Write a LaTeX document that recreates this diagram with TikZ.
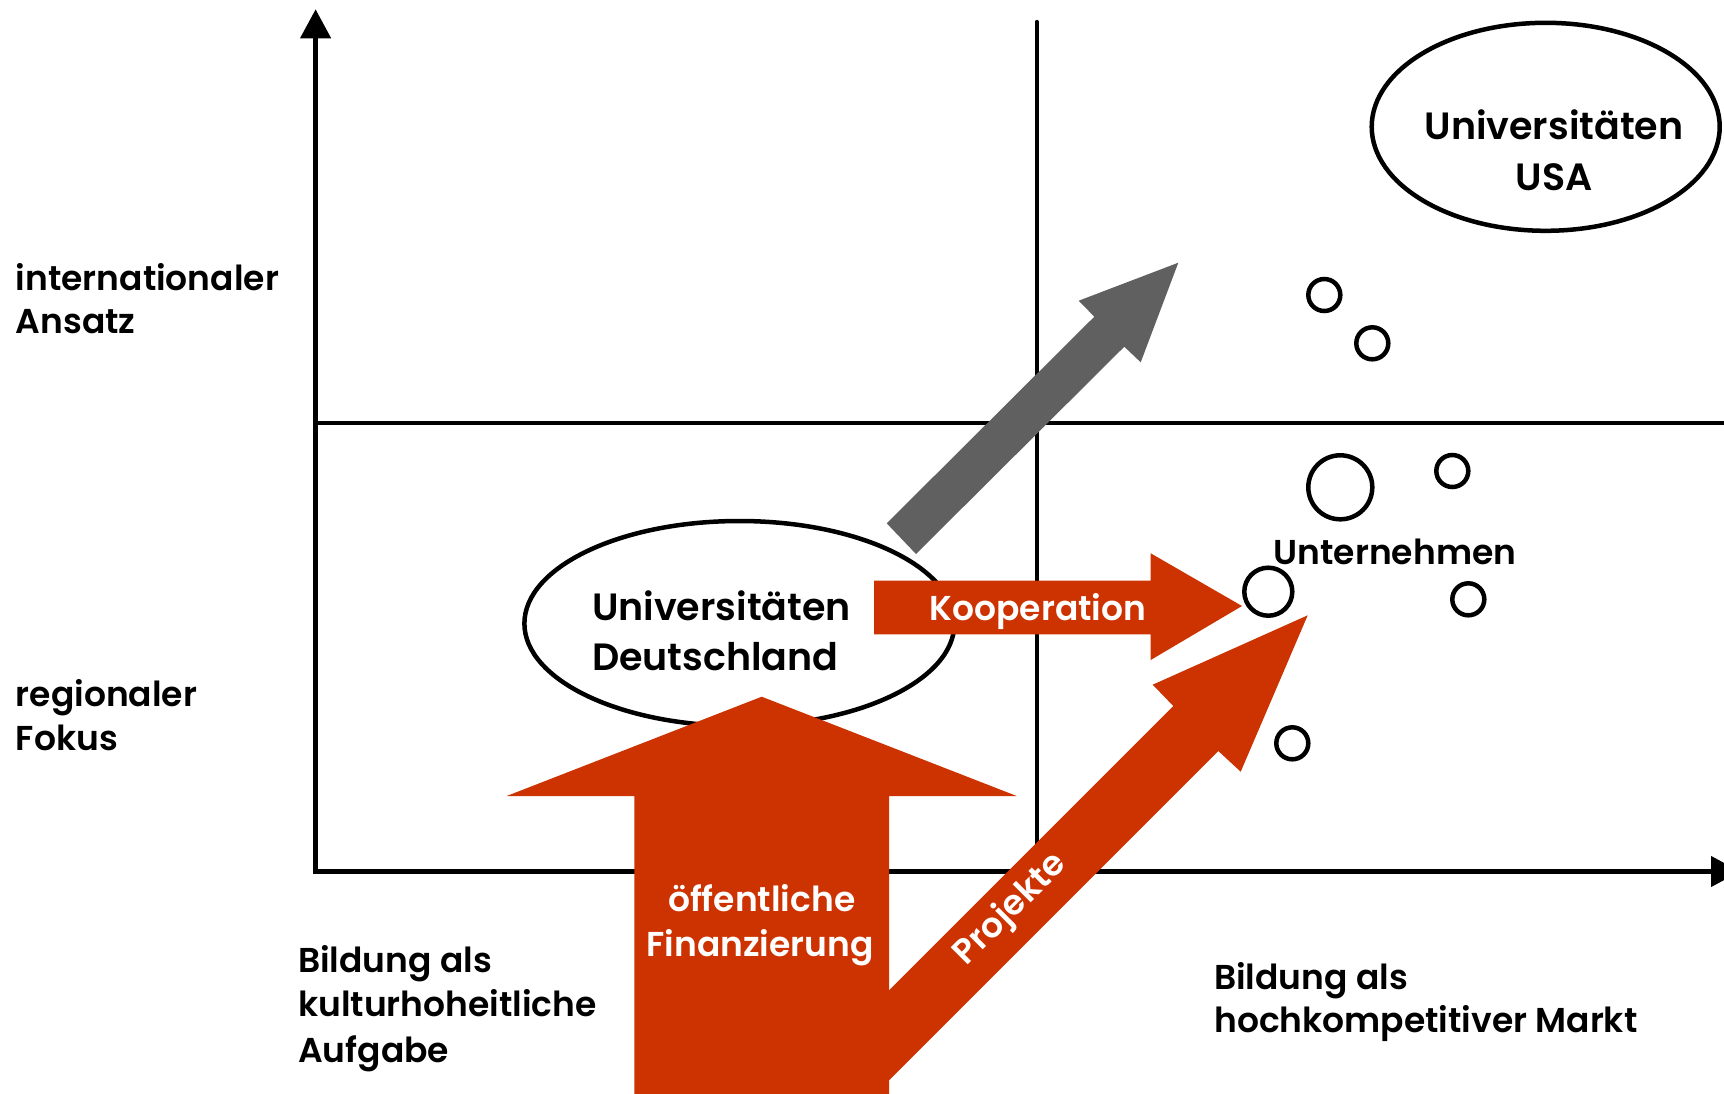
\documentclass[tikz,border=0pt]{standalone}
\usepackage{fontspec}
\setmainfont{Poppins SemiBold}
\usetikzlibrary{arrows.meta,shapes.geometric}
\definecolor{rust}{HTML}{CC3300}
\definecolor{slate}{HTML}{606060}
\begin{document}
\begin{tikzpicture}[x=1pt,y=-1pt,
  axis/.style={line width=4.5pt},
  gridline/.style={line width=4.3pt},
  dot/.style={draw, circle, line width=4.5pt, inner sep=0pt, minimum size=#1},
  oval/.style={draw, ellipse, line width=4.5pt, inner sep=0pt},
  lbl/.style={font=\fontsize{34.5}{40}\selectfont, anchor=base west, inner sep=0pt},
  ttl/.style={font=\fontsize{38}{44}\selectfont, anchor=base, inner sep=0pt},
  wlbl/.style={font=\fontsize{34.5}{40}\selectfont, anchor=base, inner sep=0pt, text=white},
  redarrow/.style={fill=rust, draw=none},
  grayarrow/.style={fill=slate, draw=none}
]
\useasboundingbox (0,0) rectangle (1724,1093);
\clip (0,0) rectangle (1724,1093);
\fill[white] (0,0) rectangle (1724,1093);

% axes and quadrant lines
\coordinate (ytop) at (315.6,9.3);
\coordinate (ybot) at (315.6,874);
\coordinate (xl) at (313.4,871.5);
\coordinate (xr) at (1740,871.5);
\coordinate (hl) at (315.6,423);
\coordinate (hr) at (1724,423);
\coordinate (vt) at (1036.7,22);
\coordinate (vb) at (1036.7,871.5);
\draw[axis,-{Triangle[length=29pt,width=30pt]}] (ybot) -- (ytop);
\draw[axis,-{Triangle[length=29pt,width=30pt]}] (xl) -- (xr);
\draw[gridline] (hl) -- (hr);
\draw[gridline, line cap=round] (vt) -- (vb);

% ellipses
\node[oval, fill=white, minimum width=430pt, minimum height=205pt] (de) at (739.4,623.5) {};
\node[oval, minimum width=348pt, minimum height=208pt] (us) at (1545.7,126.8) {};

% small circles (Unternehmen)
\node[dot=32pt] (c1) at (1324.3,295) {};
\node[dot=32pt] (c2) at (1372.3,343.3) {};
\node[dot=64pt] (c3) at (1340.3,487.3) {};
\node[dot=32pt] (c4) at (1452.3,471) {};
\node[dot=48pt] (c5) at (1268.3,591.7) {};
\node[dot=32pt] (c6) at (1468.3,599.3) {};
\node[dot=32pt] (c7) at (1292.3,743.3) {};

% gray arrow
\coordinate (g1) at (886.7,523.3);
\coordinate (g2) at (1094.3,316.7);
\coordinate (g3) at (1078.7,300.7);
\coordinate (g4) at (1178.3,262.7);
\coordinate (g5) at (1140.7,362.3);
\coordinate (g6) at (1124.3,346.7);
\coordinate (g7) at (916,554);
\fill[grayarrow] (g1) -- (g2) -- (g3) -- (g4) -- (g5) -- (g6) -- (g7) -- cycle;

% Projekte arrow
\coordinate (p1) at (850,1029.3);
\coordinate (p2) at (1173.3,706);
\coordinate (p3) at (1152.7,684.7);
\coordinate (p4) at (1307.7,615.3);
\coordinate (p5) at (1240.7,771.7);
\coordinate (p6) at (1218.3,751);
\coordinate (p7) at (850,1119.3);
\fill[redarrow] (p1) -- (p2) -- (p3) -- (p4) -- (p5) -- (p6) -- (p7) -- cycle;

% funding arrow
\coordinate (f1) at (634.3,1100);
\coordinate (f2) at (634.3,796);
\coordinate (f3) at (506.7,796);
\coordinate (f4) at (761.7,696.7);
\coordinate (f5) at (1016.7,796);
\coordinate (f6) at (889.1,796);
\coordinate (f7) at (889.1,1100);
\fill[redarrow] (f1) -- (f2) -- (f3) -- (f4) -- (f5) -- (f6) -- (f7) -- cycle;

% Kooperation arrow
\coordinate (k1) at (874,580.7);
\coordinate (k2) at (1150.7,580.7);
\coordinate (k3) at (1150.7,553.3);
\coordinate (k4) at (1242,606);
\coordinate (k5) at (1150.7,660);
\coordinate (k6) at (1150.7,634.3);
\coordinate (k7) at (874,634.3);
\fill[redarrow] (k1) -- (k2) -- (k3) -- (k4) -- (k5) -- (k6) -- (k7) -- cycle;

% titles
\node[ttl] (us1) at (1554,139.3) {Universitäten};
\node[ttl] (us2) at (1554,190) {USA};
\node[ttl, anchor=base west] (de1) at (591.8,620) {Universitäten};
\node[ttl, anchor=base west] (de2) at (591.8,670) {Deutschland};

% axis labels
\node[lbl] (ia1) at (15.6,290.7) {internationaler};
\node[lbl] (ia2) at (15.6,333.3) {Ansatz};
\node[lbl] (rf1) at (15.6,706.7) {regionaler};
\node[lbl] (rf2) at (15.6,750.5) {Fokus};
\node[lbl] (bk1) at (298,972.6) {Bildung als};
\node[lbl] (bk2) at (298,1016.5) {kulturhoheitliche};
\node[lbl] (bk3) at (298,1062) {Aufgabe};
\node[lbl] (bm1) at (1214,989) {Bildung als};
\node[lbl] (bm2) at (1214,1032.8) {hochkompetitiver Markt};
\node[lbl, anchor=base] (un) at (1395,564.3) {Unternehmen};

% white labels
\node[wlbl] (koop) at (1038,620) {Kooperation};
\node[wlbl] (of1) at (761.7,911.7) {öffentliche};
\node[wlbl] (of2) at (760,956) {Finanzierung};
\node[wlbl, anchor=center, rotate=45] (proj) at (1011,910) {Projekte};
\end{tikzpicture}
\end{document}
